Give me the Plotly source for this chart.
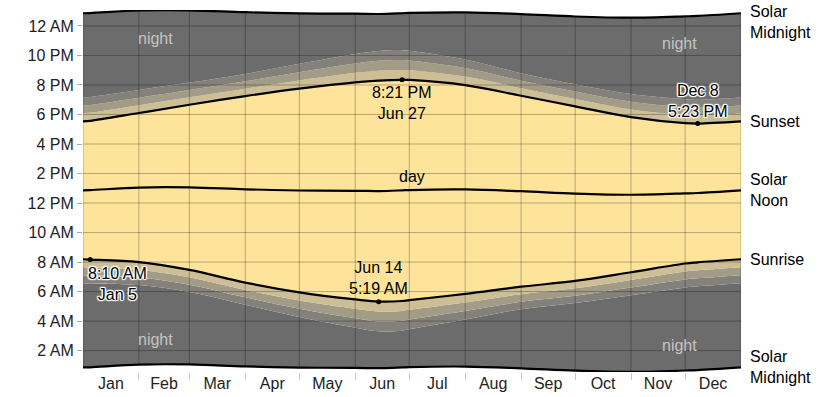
import plotly.graph_objects as go

# ---------------- data (hours of the day) ----------------
days = [0, 4, 31, 59, 90, 120, 151, 164, 177, 181, 212, 243, 273, 304, 334, 341, 365]

midnight   = [0.86, 0.87, 1.05, 1.06, 0.93, 0.85, 0.83, 0.81, 0.86, 0.88, 0.92, 0.80, 0.64, 0.56, 0.65, 0.68, 0.86]
dawn_astro = [6.57, 6.55, 6.44, 5.97, 5.11, 4.27, 3.55, 3.31, 3.35, 3.44, 4.10, 4.80, 5.22, 5.75, 6.28, 6.36, 6.57]
dawn_naut  = [7.11, 7.09, 6.96, 6.47, 5.61, 4.83, 4.19, 3.98, 4.02, 4.10, 4.68, 5.31, 5.72, 6.27, 6.82, 6.90, 7.11]
dawn_civil = [7.65, 7.63, 7.48, 6.97, 6.11, 5.39, 4.83, 4.65, 4.69, 4.76, 5.26, 5.82, 6.22, 6.79, 7.36, 7.44, 7.65]
sunrise    = [8.19, 8.17, 8.00, 7.47, 6.61, 5.95, 5.47, 5.32, 5.36, 5.42, 5.84, 6.33, 6.72, 7.31, 7.90, 7.98, 8.19]
noon       = [12.86, 12.87, 13.05, 13.06, 12.93, 12.85, 12.83, 12.81, 12.86, 12.88, 12.92, 12.80, 12.64, 12.56, 12.65, 12.68, 12.86]
sunset     = [17.53, 17.57, 18.10, 18.66, 19.25, 19.75, 20.18, 20.30, 20.35, 20.34, 19.99, 19.27, 18.55, 17.82, 17.41, 17.38, 17.53]
dusk_civil = [18.07, 18.11, 18.62, 19.16, 19.75, 20.31, 20.82, 20.97, 21.02, 21.00, 20.57, 19.78, 19.05, 18.34, 17.95, 17.92, 18.07]
dusk_naut  = [18.61, 18.65, 19.14, 19.66, 20.25, 20.87, 21.46, 21.64, 21.69, 21.66, 21.15, 20.29, 19.55, 18.86, 18.49, 18.46, 18.61]
dusk_astro = [19.15, 19.19, 19.66, 20.16, 20.75, 21.43, 22.10, 22.31, 22.36, 22.32, 21.73, 20.80, 20.05, 19.38, 19.03, 19.00, 19.15]

month_names = ["Jan", "Feb", "Mar", "Apr", "May", "Jun", "Jul", "Aug", "Sep", "Oct", "Nov", "Dec"]
month_mid_days = [15.5, 45, 74.5, 105, 135.5, 166, 196.5, 227.5, 258, 288.5, 319, 349.5]
month_start_days = [0, 31, 59, 90, 120, 151, 181, 212, 243, 273, 304, 334, 365]

hour_ticks = [2, 4, 6, 8, 10, 12, 14, 16, 18, 20, 22, 24]
hour_labels = ["2 AM", "4 AM", "6 AM", "8 AM", "10 AM", "12 PM",
               "2 PM", "4 PM", "6 PM", "8 PM", "10 PM", "12 AM"]

ext_days = [4, 164, 177, 341]
ext_values = [8.167, 5.317, 20.35, 17.383]
ext_labels = ["8:10 AM<br>Jan 5", "Jun 14<br>5:19 AM", "8:21 PM<br>Jun 27", "Dec 8<br>5:23 PM"]

# ---------------- style ----------------
NIGHT = "#6c6c6c"
ASTRO = "#84817b"
NAUT = "#a29b86"
CIVIL = "#cdbe96"
DAY = "#fee49b"
FONT = "Liberation Sans, Arial, sans-serif"
SPL = dict(shape="spline", smoothing=1.0)

midnight_next = [m + 24 for m in midnight]

fig = go.Figure()

layers = [(midnight, None), (dawn_astro, NIGHT), (dawn_naut, ASTRO), (dawn_civil, NAUT),
          (sunrise, CIVIL), (sunset, DAY), (dusk_civil, CIVIL), (dusk_naut, NAUT),
          (dusk_astro, ASTRO), (midnight_next, NIGHT)]
for vals, col in layers:
    fig.add_trace(go.Scatter(
        x=days, y=vals, mode="lines",
        line=dict(width=0, color=col or NIGHT, **SPL),
        fill="tonexty" if col else None,
        fillcolor=col, hoverinfo="skip", showlegend=False))

# grid lines drawn above the fills
gx, gy = [], []
for h in hour_ticks:
    gx += [days[0], days[-1], None]
    gy += [h, h, None]
for d in month_start_days:
    i = days.index(d)
    gx += [d, d, None]
    gy += [midnight[i], midnight_next[i], None]
fig.add_trace(go.Scatter(x=gx, y=gy, mode="lines",
                         line=dict(color="rgba(0,0,0,0.28)", width=1),
                         hoverinfo="skip", showlegend=False))

for vals in [midnight, sunrise, noon, sunset, midnight_next]:
    fig.add_trace(go.Scatter(x=days, y=vals, mode="lines",
                             line=dict(color="black", width=2.2, **SPL),
                             hoverinfo="skip", showlegend=False))

fig.add_trace(go.Scatter(x=ext_days, y=ext_values, mode="markers",
                         marker=dict(color="black", size=5),
                         hoverinfo="skip", showlegend=False))

halo = ("1px 0 1px #fff, -1px 0 1px #fff, 0 1px 1px #fff, 0 -1px 1px #fff, "
        "1px 1px 1px #fff, -1px -1px 1px #fff, 1px -1px 1px #fff, -1px 1px 1px #fff")
ann = []
# extreme labels
ann.append(dict(x=ext_days[0], y=ext_values[0], text=ext_labels[0], xanchor="left", yanchor="top",
                xshift=-4, yshift=-3, font=dict(size=16, color="black", shadow=halo)))
ann.append(dict(x=ext_days[1], y=ext_values[1], text=ext_labels[1], xanchor="center", yanchor="bottom",
                yshift=3, font=dict(size=16, color="black")))
ann.append(dict(x=ext_days[2], y=ext_values[2], text=ext_labels[2], xanchor="center", yanchor="top",
                yshift=-2, font=dict(size=16, color="black")))
ann.append(dict(x=ext_days[3], y=ext_values[3], text=ext_labels[3], xanchor="center", yanchor="bottom",
                yshift=2, font=dict(size=16, color="black", shadow=halo)))

# region labels
for x, y in [(40, 23.18), (331, 22.78), (40, 2.72), (331, 2.32)]:
    ann.append(dict(x=x, y=y, text="night", font=dict(size=16, color="#c4c4c4")))
ann.append(dict(x=182.5, y=13.83, text="day", font=dict(size=16, color="black")))

# right side labels
for vals, txt, ys in [(midnight_next, "Solar<br>Midnight", -9), (sunset, "Sunset", 0),
                      (noon, "Solar<br>Noon", 0), (sunrise, "Sunrise", 0),
                      (midnight, "Solar<br>Midnight", 0)]:
    ann.append(dict(x=days[-1], y=vals[-1], text=txt, xanchor="left", yanchor="middle",
                    xshift=7, yshift=ys, align="left", font=dict(size=16, color="black")))

for a in ann:
    a.setdefault("showarrow", False)
    a.setdefault("xref", "x")
    a.setdefault("yref", "y")
fig.update_layout(annotations=ann)

fig.update_layout(
    width=825, height=397,
    margin=dict(l=83, r=84, t=10, b=25, autoexpand=False),
    paper_bgcolor="white", plot_bgcolor="white",
    font=dict(family=FONT, size=16, color="#222"),
    showlegend=False,
    xaxis=dict(range=[0, 365], tickmode="array", tickvals=month_mid_days, ticktext=month_names,
               ticks="", showgrid=False, zeroline=False, showline=False,
               tickfont=dict(size=16, color="#222"),
               minor=dict(tickmode="array", tickvals=month_start_days[1:-1], ticks="outside",
                          ticklen=7, tickcolor="#c8c8c8", tickwidth=1, showgrid=False)),
    yaxis=dict(range=[0.55, 25.08], tickmode="array", tickvals=hour_ticks, ticktext=hour_labels,
               ticks="outside", ticklen=5, tickcolor="#aaa", showgrid=False, zeroline=False,
               showline=False, tickfont=dict(size=16, color="#222")),
)

fig.write_html(
    "out.html",
    config={"displayModeBar": False, "staticPlot": True},
    post_script="document.body.style.margin='0';document.body.style.overflow='hidden';",
)
